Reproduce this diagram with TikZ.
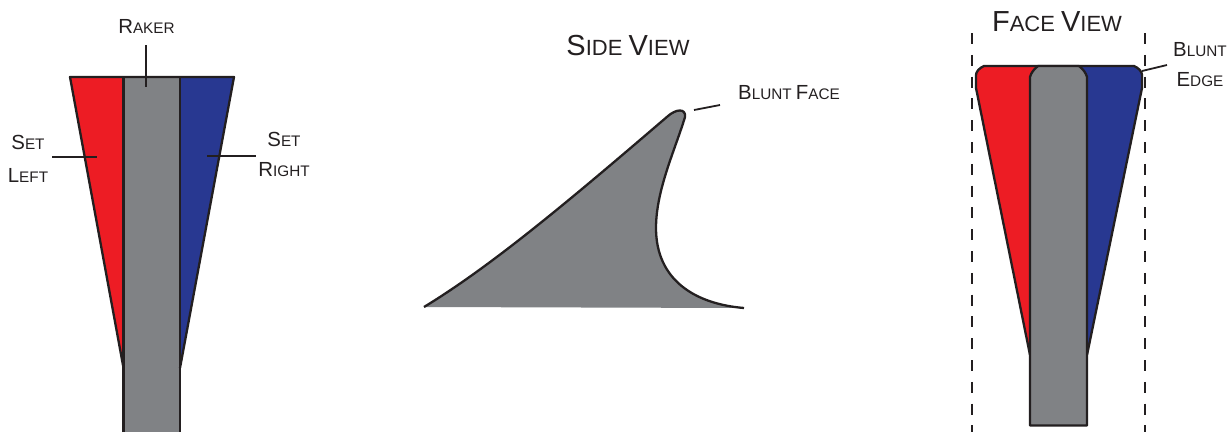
\documentclass[tikz,border=0pt]{standalone}
\usepackage{xcolor}
\usepackage{fontspec}
\setmainfont{Liberation Sans}
\usetikzlibrary{calc}
\definecolor{setred}{HTML}{ED1C24}
\definecolor{setblue}{HTML}{283891}
\definecolor{rakergray}{HTML}{808285}
\definecolor{inkblack}{HTML}{231F20}
\newcommand{\lbl}[2]{{\fontsize{20.4}{22}\selectfont #1\fontsize{15.3}{22}\selectfont #2}}
\newcommand{\ttl}[2]{{\fontsize{29}{32}\selectfont #1\fontsize{22}{32}\selectfont #2}}
\tikzset{
  outline/.style={draw=inkblack,line width=2.3pt,line join=round},
  leader/.style={draw=inkblack,line width=1.8pt},
  guide/.style={draw=inkblack,line width=1.8pt,dash pattern=on 11pt off 10.8pt},
  caption/.style={inner sep=0pt,text=inkblack,align=center}
}
\begin{document}
\begin{tikzpicture}[x=1pt,y=-1pt]
      \useasboundingbox (0,0) rectangle (1230,432);
      % left tooth
      \coordinate (TL) at (70,77);
      \coordinate (TR) at (234,77);
      \coordinate (RL) at (123.5,77);
      \coordinate (RR) at (180,77);
      \coordinate (NL) at (123.5,368);
      \coordinate (NR) at (180,368);
      \fill[setred] (TL)--(RL)--(NL)--cycle;
      \fill[setblue] (RR)--(TR)--(NR)--cycle;
      \fill[rakergray] (RL)--(RR)--(180,432)--(123.5,432)--cycle;
      \draw[outline] (NL)--(TL)--(TR)--(NR);
      \draw[outline] (123.5,432)--(RL) (RR)--(180,432);
      \node[caption] (raker) at (146.5,26) {\lbl{R}{AKER}};
      \node[caption] (setleft) at (28,142) {\lbl{S}{ET}};
      \node[caption] (left) at (28,175) {\lbl{L}{EFT}};
      \node[caption] (setright) at (284,139) {\lbl{S}{ET}};
      \node[caption] (right) at (284,170) {\lbl{R}{IGHT}};
      \coordinate (raker1) at (146,45);
      \coordinate (raker2) at (146,87);
      \coordinate (left1) at (52,157);
      \coordinate (left2) at (97,157);
      \coordinate (right1) at (207,156);
      \coordinate (right2) at (256,156);
      \draw[leader] (raker1)--(raker2);
      \draw[leader] (left1)--(left2);
      \draw[leader] (right1)--(right2);
      % side view
      \node[caption] (sideview) at (628,46) {\ttl{S}{IDE\ }\ttl{V}{IEW}};
      \node[caption] (bluntface) at (789,93) {\lbl{B}{LUNT\ }\lbl{F}{ACE}};
      \coordinate (heel) at (424,307);
      \coordinate (toe) at (744,308);
      \fill[rakergray] (heel) .. controls (493,265) and (570,200) .. (668,116)
        .. controls (676,109) and (686,108) .. (685,117)
        .. controls (675,150) and (656,190) .. (656,228)
        .. controls (656,280) and (695,304) .. (toe)--cycle;
      \draw[outline] (heel) .. controls (493,265) and (570,200) .. (668,116)
        .. controls (676,109) and (686,108) .. (685,117)
        .. controls (675,150) and (656,190) .. (656,228)
        .. controls (656,280) and (695,304) .. (toe);
      \coordinate (face1) at (694,110);
      \coordinate (face2) at (720,105);
      \draw[leader] (face1)--(face2);
      % face view
      \node[caption] (faceview) at (1057,22) {\ttl{F}{ACE\ }\ttl{V}{IEW}};
      \node[caption] (blunt) at (1200,50) {\lbl{B}{LUNT}};
      \node[caption] (edge) at (1200,80) {\lbl{E}{DGE}};
      \coordinate (guideLa) at (972,33);
      \coordinate (guideLb) at (972,432);
      \coordinate (guideRa) at (1145,33);
      \coordinate (guideRb) at (1145,432);
      \draw[guide] (guideLa)--(guideLb);
      \draw[guide] (guideRa)--(guideRb);
      \fill[setred] (976,88)--(976,75) .. controls (976,72) and (979,68) .. (984,66)
        --(1040,66)--(1030,355)--cycle;
      \fill[setblue] (1142,88)--(1142,75) .. controls (1142,72) and (1139,68) .. (1134,66)
        --(1078,66)--(1087,355)--cycle;
      \draw[outline] (1030,355)--(976,88)--(976,75) .. controls (976,72) and (979,68) .. (984,66)
        --(1134,66) .. controls (1139,68) and (1142,72) .. (1142,75)--(1142,88)--(1087,355);
      \draw[outline,fill=rakergray] (1030,425.5)--(1030,77) .. controls (1031,73) and (1034,69) .. (1038,66)
        --(1079,66) .. controls (1083,69) and (1086,73) .. (1087,77)--(1087,425.5)--cycle;
      \coordinate (edge1) at (1142,71);
      \coordinate (edge2) at (1167,65);
      \draw[leader] (edge1)--(edge2);
    \end{tikzpicture}
\end{document}
